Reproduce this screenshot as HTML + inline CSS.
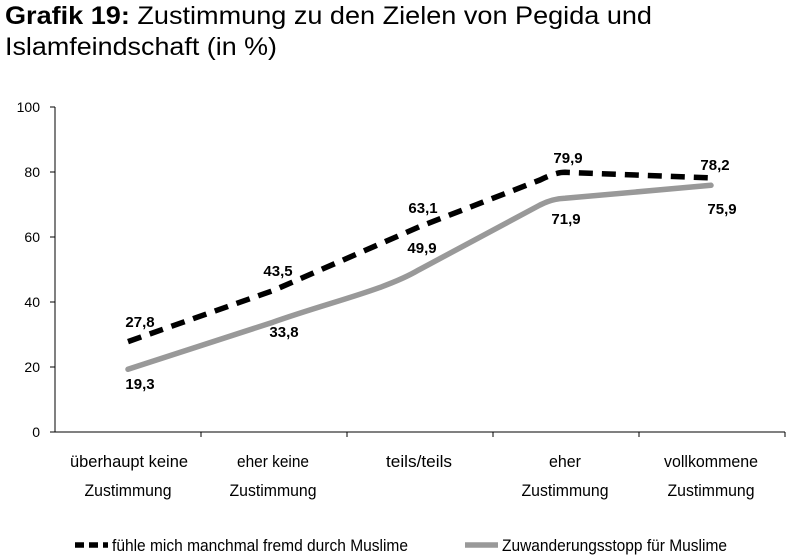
<!DOCTYPE html>
<html><head><meta charset="utf-8"><style>
body{margin:0;background:#fff;width:791px;height:558px;overflow:hidden}
svg{display:block}
</style></head><body>
<svg width="791" height="558" xmlns="http://www.w3.org/2000/svg" font-family="Liberation Sans, sans-serif">
<text x="5" y="24" font-size="25" fill="#000" textLength="647" lengthAdjust="spacingAndGlyphs"><tspan font-weight="bold">Grafik 19:</tspan> Zustimmung zu den Zielen von Pegida und</text>
<text x="5" y="55" font-size="25" fill="#000" textLength="272" lengthAdjust="spacingAndGlyphs">Islamfeindschaft (in %)</text>
<g stroke="#000" stroke-width="1">
<line x1="55" y1="107" x2="55" y2="432"/>
<line x1="55" y1="432" x2="785" y2="432"/>
<line x1="50" y1="107" x2="55" y2="107"/><line x1="50" y1="172" x2="55" y2="172"/>
<line x1="50" y1="237" x2="55" y2="237"/><line x1="50" y1="302" x2="55" y2="302"/>
<line x1="50" y1="367" x2="55" y2="367"/><line x1="50" y1="432" x2="55" y2="432"/>
<line x1="201" y1="432" x2="201" y2="437"/><line x1="347" y1="432" x2="347" y2="437"/>
<line x1="493" y1="432" x2="493" y2="437"/><line x1="639" y1="432" x2="639" y2="437"/>
<line x1="785" y1="432" x2="785" y2="437"/>
</g>
<g font-size="14" text-anchor="end" fill="#000">
<text x="40" y="112">100</text><text x="40" y="177">80</text><text x="40" y="242">60</text>
<text x="40" y="307">40</text><text x="40" y="372">20</text><text x="40" y="437">0</text>
</g>
<g font-size="17" text-anchor="middle" fill="#000" lengthAdjust="spacingAndGlyphs">
<text x="129" y="467" textLength="118" lengthAdjust="spacingAndGlyphs">überhaupt keine</text>
<text x="128" y="496" textLength="87" lengthAdjust="spacingAndGlyphs">Zustimmung</text>
<text x="273" y="467" textLength="72" lengthAdjust="spacingAndGlyphs">eher keine</text>
<text x="273" y="496" textLength="87" lengthAdjust="spacingAndGlyphs">Zustimmung</text>
<text x="419" y="467" textLength="66" lengthAdjust="spacingAndGlyphs">teils/teils</text>
<text x="565" y="467" textLength="32" lengthAdjust="spacingAndGlyphs">eher</text>
<text x="565" y="496" textLength="87" lengthAdjust="spacingAndGlyphs">Zustimmung</text>
<text x="711" y="467" textLength="94" lengthAdjust="spacingAndGlyphs">vollkommene</text>
<text x="711" y="496" textLength="87" lengthAdjust="spacingAndGlyphs">Zustimmung</text>
</g>
<path d="M128,369.3 L273,322.2 C330,302 385,290 419,269.8 L540,205 C552,199 560,198.5 565,198.3 L711,185.3" fill="none" stroke="#999" stroke-width="5.5" stroke-linecap="round" stroke-linejoin="round"/>
<path d="M128,341.6 L273,290.6 L419,226.9 L540,180 C552,174 560,172.3 565,172.3 L711,177.9" fill="none" stroke="#000" stroke-width="5.5" stroke-dasharray="14,9" stroke-linejoin="round"/>
<g font-size="15" font-weight="bold" fill="#000" text-anchor="middle">
<text x="140" y="327">27,8</text><text x="140" y="389">19,3</text>
<text x="278" y="276">43,5</text><text x="284" y="337">33,8</text>
<text x="423" y="213">63,1</text><text x="422" y="253">49,9</text>
<text x="568" y="163">79,9</text><text x="566" y="224">71,9</text>
<text x="715" y="170">78,2</text><text x="722" y="214">75,9</text>
</g>
<line x1="75" y1="545" x2="108" y2="545" stroke="#000" stroke-width="5.5" stroke-dasharray="9,5"/>
<text x="112" y="551" font-size="17" fill="#000" textLength="296" lengthAdjust="spacingAndGlyphs">fühle mich manchmal fremd durch Muslime</text>
<line x1="465" y1="545" x2="498" y2="545" stroke="#999" stroke-width="5.5"/>
<text x="502" y="551" font-size="17" fill="#000" textLength="225" lengthAdjust="spacingAndGlyphs">Zuwanderungsstopp für Muslime</text>
</svg>
</body></html>
